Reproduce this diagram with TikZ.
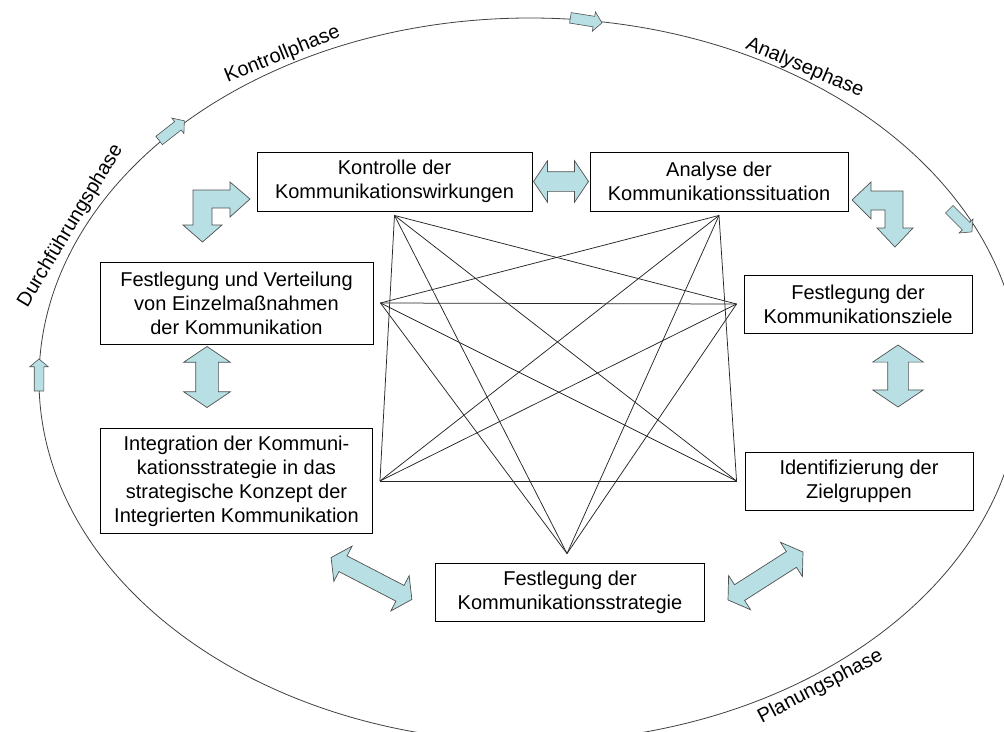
\documentclass[tikz,border=0pt]{standalone}
\usepackage{fontspec}
\setmainfont{Liberation Sans}
\usetikzlibrary{shapes.arrows, calc}
\definecolor{pfeilfill}{HTML}{B8E0E4}
\definecolor{pfeilrand}{HTML}{505050}

\begin{document}
\begin{tikzpicture}[x=1pt, y=-1pt,
  every node/.style={font=\fontsize{20}{24}\selectfont},
  box/.style={draw, line width=0.9pt, align=center, inner sep=0pt},
  link/.style={line width=0.75pt, black!85},
  dbl/.style={double arrow, draw=pfeilrand, fill=pfeilfill, line width=0.7pt,
              inner xsep=0pt, double arrow tip angle=112},
  sgl/.style={single arrow, draw=pfeilrand, fill=pfeilfill, line width=0.6pt,
              inner xsep=0pt, inner ysep=5pt, single arrow head extend=4.5pt,
              single arrow tip angle=100, minimum height=32pt},
  bent/.style={draw=pfeilrand, fill=pfeilfill, line width=0.7pt},
  phase/.style={inner sep=2.5pt}
]
\useasboundingbox (0,0) rectangle (1004,731);
\draw[line width=0.8pt, black!75] (530,380) ellipse [x radius=491pt, y radius=362pt];

\node[box, minimum width=275pt, minimum height=59pt] (kontrolle) at (394.5,181.5) {Kontrolle der\\Kommunikationswirkungen};
\node[box, minimum width=258pt, minimum height=59pt] (analyse) at (719,181.5) {Analyse der\\Kommunikationssituation};
\node[box, minimum width=273pt, minimum height=82pt] (massnahmen) at (236.5,303) {Festlegung und Verteilung\\von Einzelmaßnahmen\\der Kommunikation};
\node[box, minimum width=228pt, minimum height=58pt] (ziele) at (858,304) {Festlegung der\\Kommunikationsziele};
\node[box, minimum width=272pt, minimum height=105pt] (integration) at (236.5,481) {Integration der Kommuni-\\kationsstrategie in das\\strategische Konzept der\\Integrierten Kommunikation};
\node[box, minimum width=228pt, minimum height=58pt] (zielgruppen) at (859,481) {Identifizierung der\\Zielgruppen};
\node[box, minimum width=269pt, minimum height=58pt] (strategie) at (570,592) {Festlegung der\\Kommunikationsstrategie};

\coordinate (pk) at ([yshift=-4pt]kontrolle.south);
\coordinate (pa) at ([yshift=-4pt]analyse.south);
\coordinate (pm) at ([xshift=7pt]massnahmen.east);
\coordinate (pz) at ([xshift=-7pt]ziele.west);
\coordinate (pi) at ([xshift=7pt]integration.east);
\coordinate (pg) at ([xshift=-8pt]zielgruppen.west);
\coordinate (ps) at ([xshift=-3pt, yshift=9pt]strategie.north);
\foreach \a/\b in {pk/pi, pk/ps, pk/pg, pk/pz, pa/pg, pa/ps, pa/pi, pa/pm,
                   pm/pz, pm/pg, pm/ps, pz/pi, pz/ps, pi/pg}
  \draw[link] (\a) -- (\b);

\node[dbl, minimum height=55pt, inner ysep=9.5pt, double arrow head extend=11pt] (ka) at ($(kontrolle.east)!0.5!(analyse.west)$) {};
\node[dbl, minimum height=61pt, inner ysep=11pt, double arrow head extend=12pt, rotate=90] (mi) at (207,377) {};
\node[dbl, minimum height=62pt, inner ysep=10pt, double arrow head extend=15pt, rotate=90] (zz) at (898,376) {};
\node[dbl, minimum height=91pt, inner ysep=8.5pt, double arrow head extend=11pt, rotate=-27.4] (is) at (371.5,578.5) {};
\node[dbl, minimum height=89pt, inner ysep=9pt, double arrow head extend=11pt, rotate=32.6] (gs) at (765.5,576) {};

\draw[bent] (250,199) -- (230,182) -- (230,190) -- (193,190) -- (193,225) -- (183,225) -- (202.5,242)
  -- (222,225) -- (212,225) -- (212,208) -- (230,208) -- (230,217) -- cycle;
\draw[bent] (852,200) -- (871,182) -- (871,191) -- (903,191) -- (903,228) -- (913,228) -- (895,247)
  -- (877,228) -- (885,228) -- (885,210) -- (871,210) -- (871,219) -- cycle;

\node[sgl, rotate=-9] (s1) at (584,20) {};
\node[sgl, rotate=38] (s2) at (170,132) {};
\node[sgl, rotate=-45] (s3) at (959,219) {};
\node[sgl, rotate=90, inner ysep=4.5pt] (s4) at (39,377) {};

\node[phase, anchor=south, rotate=22] (kontrollphase) at (287,66) {Kontrollphase};
\node[phase, anchor=south, rotate=-23] (analysephase) at (800,79) {Analysephase};
\node[phase, anchor=south, rotate=59] (durchfuehrung) at (81,232) {Durchführungsphase};
\node[phase, anchor=north, rotate=27.7] (planungsphase) at (815,676) {Planungsphase};
\end{tikzpicture}
\end{document}
